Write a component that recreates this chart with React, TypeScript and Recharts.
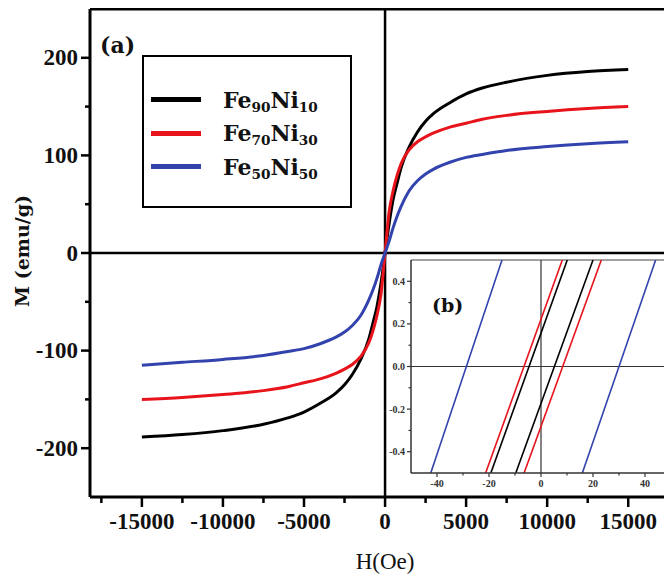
import { Legend, Line, LineChart, ReferenceLine, XAxis, YAxis } from 'recharts';

// main loop (one branch, coercivity too small to see at this scale)
const fieldOe = [
  -15000, -12500, -10000, -7500, -6000, -5000, -4000, -3000, -2500, -2000, -1500, -1000, -750, -500, -250, 0,
  250, 500, 750, 1000, 1500, 2000, 2500, 3000, 4000, 5000, 6000, 7500, 10000, 12500, 15000,
];
const fe90ni10 = [
  -188.5, -186, -182, -175.5, -169, -163, -154, -143, -135, -124, -109, -88, -72, -55, -31, 0,
  30, 55, 72, 88, 109, 124, 135, 143, 154, 163, 169, 175, 182, 186, 188,
];
const fe70ni30 = [
  -150, -148, -145, -141, -137, -133, -129, -123, -119, -114, -106, -92, -80, -64, -42, 0,
  42, 64, 80, 92, 106, 114, 119, 123, 129, 133, 137, 141, 145, 148, 150,
];
const fe50ni50 = [
  -115, -112, -109, -105, -101, -98, -93, -86, -81, -74, -64, -48, -38, -26, -12, 0,
  12, 26, 38, 48, 64, 74, 81, 86, 93, 98, 101, 105, 109, 112, 114,
];

const seriesNames = ['Fe90Ni10', 'Fe70Ni30', 'Fe50Ni50'];
const seriesColors = ['#000000', '#e8141c', '#3343ad'];

const mainXTicks = [
  -17500, -15000, -12500, -10000, -7500, -5000, -2500, 0, 2500, 5000, 7500, 10000, 12500, 15000, 17500,
];
const mainYTicks = [-200, -150, -100, -50, 0, 50, 100, 150, 200];

// inset (b): straight branches near the origin, H at M = -0.5 and M = +0.5
const insetM = [-0.5, 0.5];
const fe90Down = [-19.3, 10.1];
const fe90Up = [-9.7, 20];
const fe70Down = [-21.3, 8.2];
const fe70Up = [-6.5, 23.2];
const fe50Down = [-42.4, -15];
const fe50Up = [15.9, 44.1];

const insetXTicks = [-40, -30, -20, -10, 0, 10, 20, 30, 40];
const insetYTicks = [-0.4, -0.3, -0.2, -0.1, 0, 0.1, 0.2, 0.3, 0.4];

const mainRows = fieldOe.map((h, i) => ({
  h,
  fe90: fe90ni10[i],
  fe70: fe70ni30[i],
  fe50: fe50ni50[i],
}));

const branch = (hs: number[]) => hs.map((h, i) => ({ h, m: insetM[i] }));

const TICK_FONT = '"Liberation Serif", serif';
const LABEL_FONT = '"DejaVu Serif", serif';

function MainXTick({ x, y, payload }: any) {
  const major = payload.value % 5000 === 0;
  return (
    <g>
      <line x1={x} x2={x} y1={y} y2={y + (major ? 10 : 6)} stroke="#000" strokeWidth={2.5} />
      {major && (
        <text x={x} y={y + 32} textAnchor="middle" fontFamily={TICK_FONT} fontWeight="bold" fontSize={23} fill="#111">
          {payload.value}
        </text>
      )}
    </g>
  );
}

function MainYTick({ x, y, payload }: any) {
  const major = payload.value % 100 === 0;
  return (
    <g>
      <line x1={x} x2={x - (major ? 9 : 5)} y1={y} y2={y} stroke="#000" strokeWidth={2.5} />
      {major && (
        <text x={x - 12} y={y + 7.5} textAnchor="end" fontFamily={TICK_FONT} fontWeight="bold" fontSize={23} fill="#111">
          {payload.value}
        </text>
      )}
    </g>
  );
}

function InsetXTick({ x, y, payload }: any) {
  const major = payload.value % 20 === 0;
  return (
    <g>
      <line x1={x} x2={x} y1={y} y2={y + (major ? 4 : 2.5)} stroke="#333" strokeWidth={1.2} />
      {major && (
        <text x={x} y={y + 14} textAnchor="middle" fontFamily={TICK_FONT} fontWeight="bold" fontSize={10} fill="#333">
          {payload.value}
        </text>
      )}
    </g>
  );
}

function InsetYTick({ x, y, payload }: any) {
  const major = Math.abs(Math.round(payload.value * 10)) % 2 === 0;
  return (
    <g>
      <line x1={x} x2={x - (major ? 4 : 2.5)} y1={y} y2={y} stroke="#333" strokeWidth={1.2} />
      {major && (
        <text x={x - 6} y={y + 3.5} textAnchor="end" fontFamily={TICK_FONT} fontWeight="bold" fontSize={10} fill="#333">
          {payload.value.toFixed(1)}
        </text>
      )}
    </g>
  );
}

function Formula({ text }: { text: string }) {
  return (
    <>
      {text.split(/(\d+)/).map((part, i) =>
        /^\d+$/.test(part) ? (
          <span key={i} style={{ fontSize: '0.62em', position: 'relative', top: '0.3em' }}>
            {part}
          </span>
        ) : (
          <span key={i}>{part}</span>
        ),
      )}
    </>
  );
}

function LegendBox({ payload }: any) {
  const items = [...(payload || [])].sort(
    (a: any, b: any) => seriesNames.indexOf(a.value) - seriesNames.indexOf(b.value),
  );
  return (
    <div
      style={{
        boxSizing: 'border-box',
        width: 210,
        height: 153,
        border: '2px solid #000',
        background: '#fff',
        paddingTop: 26,
      }}
    >
      {items.map((entry: any) => (
        <div key={entry.value} style={{ display: 'flex', alignItems: 'center', height: 33.5 }}>
          <span style={{ display: 'inline-block', width: 50, height: 5, marginLeft: 7, background: entry.color }} />
          <span
            style={{
              marginLeft: 22,
              fontFamily: LABEL_FONT,
              fontWeight: 'bold',
              fontSize: 22,
              lineHeight: 1,
              color: '#111',
            }}
          >
            <Formula text={entry.value} />
          </span>
        </div>
      ))}
    </div>
  );
}

const insetLines = [
  { key: 'fe90d', h: fe90Down, color: seriesColors[0] },
  { key: 'fe90u', h: fe90Up, color: seriesColors[0] },
  { key: 'fe70d', h: fe70Down, color: seriesColors[1] },
  { key: 'fe70u', h: fe70Up, color: seriesColors[1] },
  { key: 'fe50d', h: fe50Down, color: seriesColors[2] },
  { key: 'fe50u', h: fe50Up, color: seriesColors[2] },
];

export default function App() {
  return (
    <div style={{ position: 'relative', width: 664, height: 570, background: '#fff' }}>
      <LineChart width={664} height={570} data={mainRows} margin={{ top: 1, right: 0, bottom: 0, left: 0 }}>
        <XAxis
          dataKey="h"
          type="number"
          domain={[-18200, 17700]}
          ticks={mainXTicks}
          interval={0}
          allowDataOverflow
          tick={(p: any) => <MainXTick {...p} />}
          tickLine={false}
          tickSize={0}
          tickMargin={0}
          height={81}
          axisLine={{ stroke: '#000', strokeWidth: 3 }}
        />
        <YAxis
          type="number"
          domain={[-250, 250]}
          ticks={mainYTicks}
          interval={0}
          allowDataOverflow
          tick={(p: any) => <MainYTick {...p} />}
          tickLine={false}
          tickSize={0}
          tickMargin={0}
          width={82}
          axisLine={{ stroke: '#000', strokeWidth: 3 }}
        />
        <ReferenceLine y={250} stroke="#000" strokeWidth={3} />
        <ReferenceLine y={0} stroke="#000" strokeWidth={2.5} />
        <ReferenceLine x={0} stroke="#000" strokeWidth={2.5} />
        <Legend
          layout="vertical"
          verticalAlign="middle"
          align="center"
          content={(p: any) => <LegendBox {...p} />}
          wrapperStyle={{ left: 134, top: 47, width: 210, height: 153 }}
        />
        <Line type="monotone" dataKey="fe90" name={seriesNames[0]} stroke={seriesColors[0]} strokeWidth={3} dot={false} isAnimationActive={false} />
        <Line type="monotone" dataKey="fe70" name={seriesNames[1]} stroke={seriesColors[1]} strokeWidth={3} dot={false} isAnimationActive={false} />
        <Line type="monotone" dataKey="fe50" name={seriesNames[2]} stroke={seriesColors[2]} strokeWidth={3} dot={false} isAnimationActive={false} />
      </LineChart>

      <div style={{ position: 'absolute', left: 92, top: 24, fontFamily: LABEL_FONT, fontWeight: 'bold', fontSize: 22, color: '#111' }}>
        (a)
      </div>
      <div
        style={{
          position: 'absolute',
          left: 14 - 100,
          top: 243 - 12,
          width: 200,
          height: 24,
          lineHeight: '24px',
          textAlign: 'center',
          transform: 'rotate(-90deg)',
          fontFamily: LABEL_FONT,
          fontWeight: 'bold',
          fontSize: 19,
          color: '#111',
        }}
      >
        M (emu/g)
      </div>
      <div
        style={{
          position: 'absolute',
          left: 277,
          top: 541,
          width: 200,
          textAlign: 'center',
          fontFamily: TICK_FONT,
          fontSize: 23,
          lineHeight: '26px',
          color: '#111',
        }}
      >
        H(Oe)
      </div>

      <div style={{ position: 'absolute', left: 377, top: 250 }}>
        <LineChart width={287} height={240} margin={{ top: 2, right: 1, bottom: 0, left: 0 }}>
          <XAxis
            dataKey="h"
            type="number"
            domain={[-50, 50]}
            ticks={insetXTicks}
            interval={0}
            allowDataOverflow
            tick={(p: any) => <InsetXTick {...p} />}
            tickLine={false}
            tickSize={0}
            tickMargin={0}
            height={25}
            axisLine={{ stroke: '#333', strokeWidth: 1.5 }}
          />
          <YAxis
            type="number"
            domain={[-0.5, 0.5]}
            ticks={insetYTicks}
            interval={0}
            allowDataOverflow
            tick={(p: any) => <InsetYTick {...p} />}
            tickLine={false}
            tickSize={0}
            tickMargin={0}
            width={26}
            axisLine={{ stroke: '#333', strokeWidth: 1.5 }}
          />
          <ReferenceLine y={0.5} stroke="#444" strokeWidth={1.2} />
          <ReferenceLine x={50} stroke="#444" strokeWidth={1.2} />
          <ReferenceLine y={0} stroke="#333" strokeWidth={1.2} />
          <ReferenceLine x={0} stroke="#333" strokeWidth={1.2} />
          {insetLines.map((l) => (
            <Line
              key={l.key}
              data={branch(l.h)}
              dataKey="m"
              type="linear"
              stroke={l.color}
              strokeWidth={1.6}
              dot={false}
              isAnimationActive={false}
            />
          ))}
        </LineChart>
        <div
          style={{
            position: 'absolute',
            left: 47,
            top: 36,
            fontFamily: LABEL_FONT,
            fontWeight: 'bold',
            fontSize: 19,
            color: '#111',
          }}
        >
          (b)
        </div>
      </div>
    </div>
  );
}
